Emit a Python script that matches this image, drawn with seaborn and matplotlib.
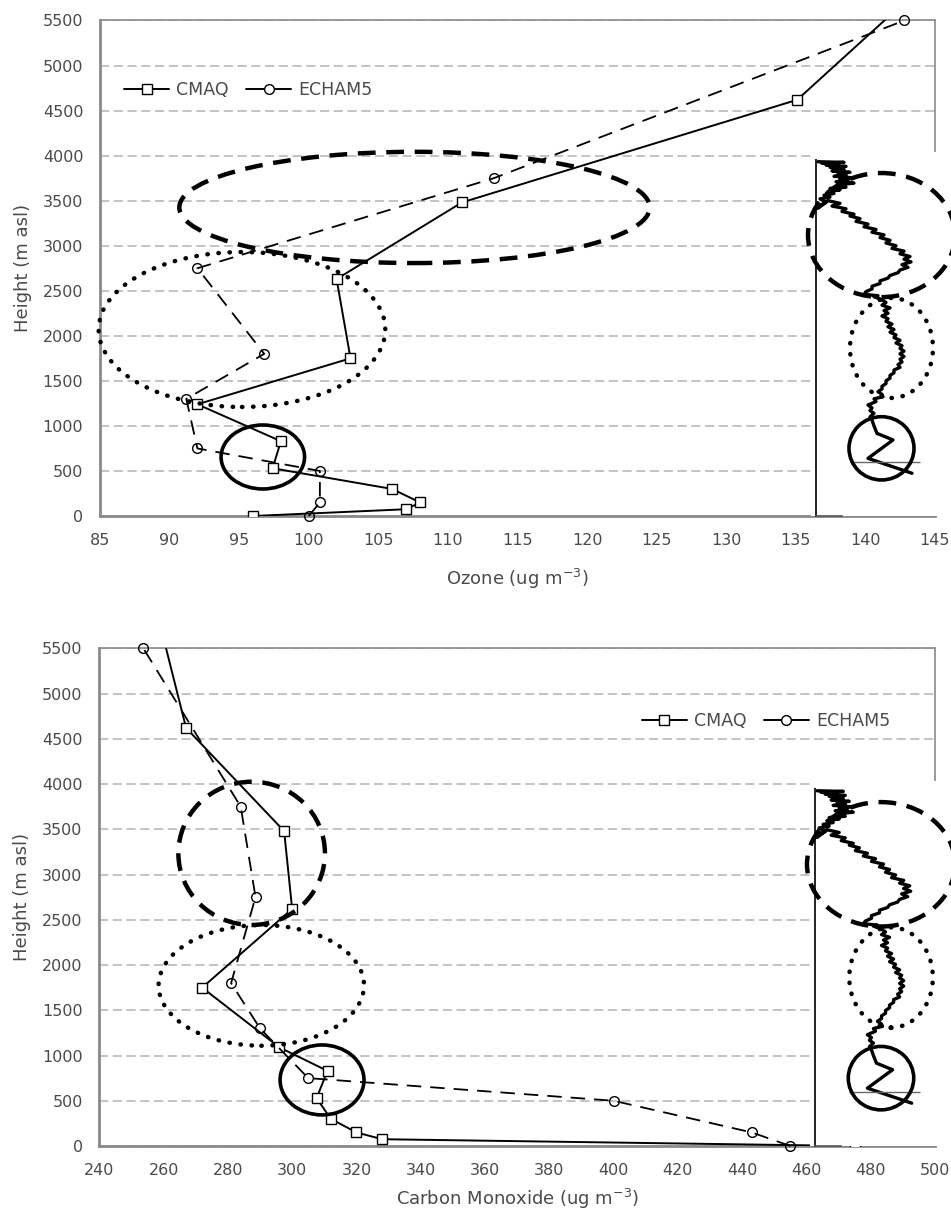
import matplotlib
matplotlib.use("Agg")
import matplotlib.pyplot as plt
from matplotlib.patches import Ellipse
from matplotlib.lines import Line2D
import seaborn as sns
import pandas as pd

# ---- data ----
heights_cmaq_o3 = [0, 75, 150, 300, 530, 830, 1240, 1750, 2630, 3480, 4620, 5800]
o3_cmaq = [96, 107, 108, 106, 97.4, 98, 92, 103, 102, 111, 135.1, 143.5]
heights_echam = [0, 150, 500, 750, 1300, 1800, 2750, 3750, 5500]
o3_echam = [100, 100.8, 100.8, 92, 91.2, 96.8, 92, 113.3, 142.8]

heights_cmaq_co = [0, 75, 150, 300, 530, 830, 1090, 1750, 2620, 3480, 4620, 5750]
co_cmaq = [475, 328, 320, 312, 307.6, 311, 296, 272, 300, 297.5, 267, 259]
co_echam = [455, 443, 400, 305, 290, 281, 288.6, 284, 253.7]

o3_ticks = list(range(85, 146, 5))
co_ticks = list(range(240, 501, 20))
height_ticks = list(range(0, 5501, 500))

# highlighted layers (centre x, centre height, width, height)
o3_rings = {"dashed": (107.6, 3425, 33.8, 1235),
            "dotted": (95.2, 2070, 20.6, 1720),
            "solid": (96.7, 655, 6.0, 710)}
co_rings = {"dashed": (287.4, 3234, 45.6, 1583),
            "dotted": (290.4, 1775, 63.9, 1334),
            "solid": (309.3, 730, 26.1, 773)}

# measured profile shown in the inset (offset units, height m)
trace_hgt = [3932, 3925, 3915, 3905, 3895, 3880, 3870, 3860, 3845, 3830, 3815,
             3800, 3785, 3770, 3755, 3740, 3725, 3710, 3695, 3680, 3665, 3650,
             3635, 3620, 3600, 3580, 3560, 3540, 3520, 3480, 3440, 3415,
             3500, 3470, 3440, 3410, 3380, 3350, 3330, 3300, 3270, 3240, 3210,
             3180, 3150, 3120, 3090, 3060, 3030, 3000, 2970, 2940, 2910, 2880,
             2850, 2820, 2790, 2760, 2730, 2700, 2670, 2640, 2610, 2580, 2550,
             2520, 2490, 2460, 2445, 2434, 2400, 2370, 2340, 2310, 2280, 2250,
             2220, 2190, 2160, 2130, 2100, 2070, 2040, 2010, 1980, 1950, 1920,
             1890, 1860, 1830, 1800, 1770, 1740, 1710, 1680, 1650, 1620, 1590,
             1560, 1530, 1500, 1470, 1440, 1410, 1380, 1350, 1324, 1300, 1270,
             1232, 1200, 1170, 1140, 1100, 1065, 1000, 917, 844, 640, 474]
trace_off = [2, 28, 6, 22, 10, 30, 14, 20, 28, 16, 34,
             22, 30, 18, 36, 24, 32, 20, 38, 26, 22, 30,
             14, 24, 12, 18, 8, 14, 4, 10, 3, 2,
             12, 24, 16, 30, 26, 38, 34, 44, 40, 52, 48,
             60, 56, 68, 64, 74, 70, 80, 76, 88, 84, 94,
             88, 95, 86, 92, 84, 82, 74, 72, 64, 64, 56,
             56, 50, 48, 62, 58, 66, 70, 66, 74, 68, 72,
             66, 72, 70, 76, 72, 78, 74, 80, 78, 84, 80,
             86, 84, 88, 84, 88, 84, 86, 82, 84, 78, 78,
             74, 74, 70, 70, 66, 66, 62, 66, 67, 58, 60,
             52, 56, 54, 58, 54, 56, 58, 61, 77, 52, 96]
trace_rings = {"dashed": (65.5, 3118, 147, 1377),
               "dotted": (75.5, 1865, 83, 1110),
               "solid": (65.5, 751, 65, 702)}
ref_line_hgt = [600]
inset_ticks = [1000, 1500, 2000, 2500, 3000]

sns.set_style("white")
plt.rcParams["font.family"] = ["DejaVu Sans"]

GREY = "#8a8a8a"
TXT = "#4a4a4a"
W, H = 951, 1214

fig = plt.figure(figsize=(9.51, 12.14), dpi=100)

ring_styles = {"dashed": dict(linestyle=(0, (4, 2.4)), lw=3.2),
               "dotted": dict(linestyle=(0, (0.1, 2.4)), lw=3.2, capstyle="round"),
               "solid": dict(linestyle="-", lw=2.6)}


def add_rings(ax, rings):
    for name, (cx, cy, w, h) in rings.items():
        e = Ellipse((cx, cy), w, h, fill=False, edgecolor="black",
                    clip_on=False, zorder=6, **ring_styles[name])
        ax.add_patch(e)


def panel(px_box, inset_px, xlim, xticks, cmaq_x, cmaq_h, echam_x, echam_h,
          rings, xlabel, xpad, leg_loc, leg_anchor):
    l, r, t, b = px_box
    ax = fig.add_axes([l / W, (H - b) / H, (r - l) / W, (b - t) / H])
    df_c = pd.DataFrame({"conc": cmaq_x, "hgt": cmaq_h})
    df_e = pd.DataFrame({"conc": echam_x, "hgt": echam_h})
    sns.lineplot(data=df_c, x="conc", y="hgt", sort=False, estimator=None,
                 color="black", lw=1.4, marker="s", markersize=7.5,
                 markerfacecolor="white", markeredgecolor="black",
                 markeredgewidth=1.0, ax=ax, zorder=4)
    sns.lineplot(data=df_e, x="conc", y="hgt", sort=False, estimator=None,
                 color="black", lw=1.3, linestyle=(0, (8, 5)), marker="o",
                 markersize=7, markerfacecolor="none", markeredgecolor="black",
                 markeredgewidth=1.0, ax=ax, zorder=4, clip_on=False)
    ax.set_xlim(*xlim)
    ax.set_ylim(0, 5500)
    ax.set_xticks(xticks)
    ax.set_yticks(height_ticks)
    ax.yaxis.grid(True, linestyle=(0, (6, 3)), color="#b3b3b3", lw=1.1)
    ax.xaxis.grid(False)
    ax.set_axisbelow(True)
    for s in ax.spines.values():
        s.set_color(GREY)
        s.set_linewidth(1.2)
    ax.spines["left"].set_linewidth(2.0)
    ax.spines["bottom"].set_linewidth(2.0)
    ax.tick_params(axis="both", direction="out", length=6, width=1.0,
                   color=GREY, labelsize=11.5, labelcolor=TXT, pad=6)
    ax.set_xlabel(xlabel, fontsize=13, color=TXT, labelpad=xpad)
    ax.set_ylabel("Height (m asl)", fontsize=13, color=TXT, labelpad=8)
    handles = [Line2D([], [], color="black", lw=1.4, marker="s", markersize=7.5,
                      markerfacecolor="white", markeredgewidth=1.0),
               Line2D([], [], color="black", lw=1.4, marker="o", markersize=7,
                      markerfacecolor="white", markeredgewidth=1.0)]
    ax.legend(handles, ["CMAQ", "ECHAM5"], loc=leg_loc, bbox_to_anchor=leg_anchor,
              ncol=2, frameon=False, fontsize=12.5, handlelength=2.6,
              columnspacing=1.0, handletextpad=0.4, labelcolor=TXT)
    add_rings(ax, rings)

    # inset with the observed profile
    il, ir, it, ib = inset_px
    ia = fig.add_axes([il / W, (H - ib) / H, (ir - il) / W, (ib - it) / H],
                      zorder=3)
    ia.set_facecolor("white")
    sns.lineplot(x=trace_off, y=trace_hgt, sort=False, estimator=None,
                 color="black", lw=2.4, ax=ia)
    ia.hlines(ref_line_hgt, 34, 104, color="#666666", lw=1.0)
    ia.set_xlim(-5, 135)
    ia.set_ylim(0, 4040)
    for s in ["top", "right"]:
        ia.spines[s].set_visible(False)
    ia.spines["left"].set_position(("data", 0))
    ia.spines["left"].set_bounds(0, 3950)
    ia.spines["bottom"].set_bounds(0, 26)
    ia.spines["left"].set_color("#222222")
    ia.spines["bottom"].set_color("#555555")
    ia.spines["left"].set_linewidth(1.4)
    ia.spines["bottom"].set_linewidth(1.2)
    ia.set_xticks([])
    ia.set_yticks(inset_ticks)
    ia.tick_params(axis="y", direction="in", length=9, width=0.8,
                   color="#777777", labelleft=False)
    ia.set_xlabel("")
    ia.set_ylabel("")
    add_rings(ia, trace_rings)
    return ax


panel((100, 935, 20.5, 516), (811, 951, 152, 516), (85, 145), o3_ticks,
      o3_cmaq, heights_cmaq_o3, o3_echam, heights_echam, o3_rings,
      "Ozone (ug m$^{-3}$)", 14, "center left", (0.01, 0.86))

panel((99.3, 935, 648.3, 1146), (810, 951, 781, 1146), (240, 500), co_ticks,
      co_cmaq, heights_cmaq_co, co_echam, heights_echam, co_rings,
      "Carbon Monoxide (ug m$^{-3}$)", 7, "center right", (0.965, 0.854))

fig.savefig("out.png", dpi=100)
